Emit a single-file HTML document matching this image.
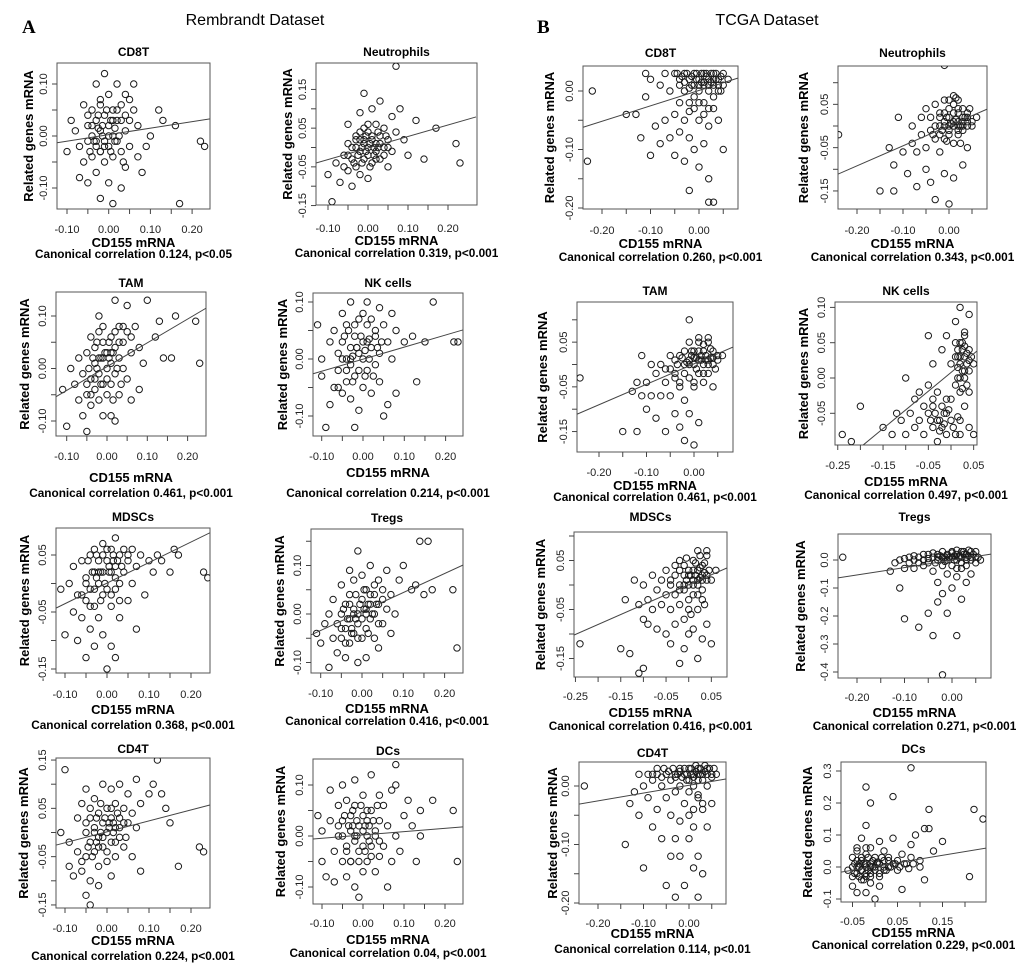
<!DOCTYPE html>
<html><head><meta charset="utf-8"><style>
html,body{margin:0;padding:0;background:#fff;}
svg{display:block;font-family:"Liberation Sans",sans-serif;}
</style></head><body>
<svg id="fig" width="1020" height="969" viewBox="0 0 1020 969" xmlns="http://www.w3.org/2000/svg">
<text x="22" y="33" font-family="Liberation Serif,serif" font-weight="bold" font-size="19">A</text>
<text x="255" y="25" text-anchor="middle" font-size="16">Rembrandt Dataset</text>
<text x="537" y="33" font-family="Liberation Serif,serif" font-weight="bold" font-size="19">B</text>
<text x="767" y="25" text-anchor="middle" font-size="16">TCGA Dataset</text>
</svg>
<script>
// ---- data (data units) ----
const ptsA1=[[-0.1,-0.03],[-0.09,0.03],[-0.08,0.01],[-0.07,-0.02],[-0.07,-0.08],[-0.06,0.06],[-0.06,-0.05],[-0.05,0.02],[-0.05,-0.01],[-0.05,-0.09],[-0.04,0.05],[-0.04,0.0],[-0.04,-0.04],[-0.03,0.1],[-0.03,0.03],[-0.03,-0.02],[-0.03,-0.07],[-0.02,0.07],[-0.02,0.01],[-0.02,-0.03],[-0.02,-0.12],[-0.01,0.12],[-0.01,0.04],[-0.01,-0.01],[-0.01,-0.05],[0,0.02],[0,-0.02],[0,0.08],[0,-0.09],[0.01,0.0],[0.01,0.05],[0.01,-0.04],[0.01,-0.13],[0.02,0.03],[0.02,-0.01],[0.02,0.1],[0.03,0.06],[0.03,-0.03],[0.03,-0.1],[0.04,0.01],[0.04,0.08],[0.04,-0.06],[0.05,0.03],[0.05,-0.02],[0.06,0.1],[0.06,0.05],[0.07,-0.04],[0.07,0.02],[0.08,-0.07],[0.09,-0.02],[0.1,0.0],[0.12,0.05],[0.13,0.03],[0.16,0.02],[0.17,-0.13],[0.22,-0.01],[0.23,-0.02],[-0.015,0.0],[-0.025,0.015],[0.005,0.03],[0.015,0.015],[-0.035,-0.01]];
const coreA1=[[-0.04,0.02],[-0.03,-0.01],[-0.025,0.04],[-0.02,-0.03],[-0.015,0.02],[-0.01,-0.02],[-0.005,0.05],[0,0.0],[0.005,-0.03],[0.01,0.03],[0.015,-0.01],[0.02,0.05],[0.025,0.0],[0.03,0.03],[0.035,-0.05],[-0.045,-0.03],[-0.02,0.06],[0.04,0.04],[-0.05,0.04],[0.05,0.07]];
const ptsA2=[[-0.1,-0.07],[-0.09,-0.14],[-0.08,-0.04],[-0.07,-0.09],[-0.06,-0.02],[-0.05,-0.06],[-0.05,0.06],[-0.05,0.01],[-0.04,-0.03],[-0.04,-0.1],[-0.03,0.0],[-0.03,0.03],[-0.03,-0.05],[-0.02,0.09],[-0.02,-0.01],[-0.02,0.02],[-0.02,-0.07],[-0.01,0.14],[-0.01,0.01],[-0.01,-0.03],[-0.01,0.05],[0,0.0],[0,-0.02],[0,0.04],[0,-0.08],[0.01,0.02],[0.01,-0.04],[0.01,0.1],[0.02,0.01],[0.02,-0.01],[0.02,0.06],[0.03,0.03],[0.03,-0.03],[0.03,0.12],[0.04,0.0],[0.04,0.05],[0.05,-0.05],[0.05,0.02],[0.06,0.08],[0.06,-0.01],[0.07,0.04],[0.07,0.21],[0.08,0.1],[0.09,0.02],[0.1,-0.02],[0.12,0.07],[0.14,-0.03],[0.17,0.05],[0.22,0.01],[0.23,-0.04],[-0.015,0.0],[0.005,0.01],[0.015,-0.02],[-0.005,0.03],[0.025,0.0]];
const coreA2=[[-0.05,-0.02],[-0.04,0.0],[-0.035,-0.04],[-0.03,0.02],[-0.025,-0.02],[-0.02,0.04],[-0.015,-0.04],[-0.01,0.02],[-0.005,-0.01],[0,0.06],[0.005,-0.05],[0.01,0.03],[0.015,0.0],[0.02,-0.03],[0.025,0.04],[0.03,0.01],[0.04,-0.02],[0.045,0.03],[-0.06,-0.05],[0.05,0.0]];
const ptsB1=[[-0.23,-0.12],[-0.22,0.0],[-0.15,-0.04],[-0.13,-0.04],[-0.12,-0.08],[-0.11,0.03],[-0.11,-0.01],[-0.1,-0.11],[-0.1,0.02],[-0.09,-0.06],[-0.08,0.01],[-0.08,-0.09],[-0.07,0.03],[-0.07,-0.05],[-0.06,0.0],[-0.06,-0.08],[-0.05,0.03],[-0.05,-0.04],[-0.05,-0.11],[-0.04,0.02],[-0.04,-0.02],[-0.04,-0.07],[-0.03,0.03],[-0.03,0.0],[-0.03,-0.05],[-0.03,-0.12],[-0.02,0.02],[-0.02,-0.02],[-0.02,-0.08],[-0.02,-0.17],[-0.01,0.03],[-0.01,0.01],[-0.01,-0.03],[-0.01,-0.1],[0,0.02],[0,0.0],[0,-0.05],[0,-0.13],[0.01,0.03],[0.01,0.01],[0.01,-0.02],[0.01,-0.09],[0.02,0.02],[0.02,0.0],[0.02,-0.06],[0.02,-0.15],[0.02,-0.19],[0.03,0.03],[0.03,0.01],[0.03,-0.03],[0.03,-0.19],[0.04,0.02],[0.04,0.0],[0.04,-0.05],[0.05,0.03],[0.05,0.01],[0.05,-0.1],[0.06,0.02],[0.005,0.015],[0.015,0.025],[-0.005,0.02],[0.025,0.015],[0.035,0.02],[-0.015,0.01]];
const coreB1=[[-0.045,0.03],[-0.035,0.025],[-0.025,0.03],[-0.015,0.025],[-0.005,0.03],[0.005,0.03],[0.015,0.03],[0.025,0.03],[0.035,0.03],[0.045,0.025],[-0.04,0.01],[-0.03,0.015],[-0.02,0.005],[0.0,0.01],[0.01,0.015],[0.02,0.01],[0.03,0.02],[0.04,0.01],[-0.01,-0.01],[0.0,-0.02],[0.02,-0.03],[0.03,-0.01],[0.045,0.0],[-0.02,-0.035],[0.01,-0.04]];
const ptsB2=[[-0.24,-0.02],[-0.15,-0.15],[-0.13,-0.05],[-0.12,-0.09],[-0.12,-0.15],[-0.11,0.02],[-0.1,-0.06],[-0.09,-0.11],[-0.08,0.0],[-0.08,-0.04],[-0.07,-0.14],[-0.07,-0.06],[-0.06,0.02],[-0.06,-0.02],[-0.05,-0.1],[-0.05,0.04],[-0.05,-0.05],[-0.04,-0.01],[-0.04,-0.13],[-0.04,0.02],[-0.03,-0.03],[-0.03,0.05],[-0.03,-0.17],[-0.02,0.0],[-0.02,-0.06],[-0.02,0.03],[-0.01,0.01],[-0.01,-0.03],[-0.01,0.06],[-0.01,-0.11],[-0.01,0.14],[0,0.0],[0,-0.02],[0,0.04],[0,-0.18],[0.01,0.01],[0.01,-0.04],[0.01,0.07],[0.01,-0.12],[0.02,0.0],[0.02,0.03],[0.02,-0.02],[0.02,0.06],[0.03,0.01],[0.03,-0.01],[0.03,0.04],[0.03,-0.09],[0.04,0.0],[0.04,0.02],[0.04,-0.05],[0.05,0.01],[0.06,0.02],[0.005,0.005],[0.015,0.015],[0.025,0.0],[-0.005,0.02],[0.035,0.02],[-0.015,-0.01]];
const coreB2=[[-0.03,0.0],[-0.02,0.02],[-0.02,-0.02],[-0.01,0.0],[-0.01,0.03],[0,0.02],[0,-0.01],[0.01,0.03],[0.01,0.0],[0.01,0.05],[0.02,0.01],[0.02,-0.01],[0.02,0.04],[0.03,0.02],[0.03,0.0],[0.04,0.03],[0.04,0.01],[0.05,0.0],[0.0,0.06],[0.015,0.065],[-0.005,-0.035],[0.025,-0.04],[-0.035,-0.02],[0.045,0.04]];
const ptsA3=[[-0.11,-0.04],[-0.1,-0.11],[-0.09,0.0],[-0.08,-0.03],[-0.07,-0.06],[-0.07,0.02],[-0.06,-0.09],[-0.06,-0.01],[-0.05,0.03],[-0.05,-0.05],[-0.05,-0.12],[-0.04,-0.02],[-0.04,0.06],[-0.04,-0.07],[-0.03,0.01],[-0.03,-0.04],[-0.03,0.04],[-0.02,-0.01],[-0.02,0.1],[-0.02,-0.06],[-0.02,0.07],[-0.01,0.02],[-0.01,-0.03],[-0.01,0.05],[-0.01,-0.09],[0,0.0],[0,0.03],[0,-0.05],[0.01,0.06],[0.01,0.01],[0.01,-0.03],[0.01,-0.09],[0.02,0.13],[0.02,0.04],[0.02,-0.01],[0.02,-0.1],[0.03,0.08],[0.03,0.02],[0.03,-0.05],[0.04,0.05],[0.04,0.0],[0.05,0.12],[0.05,0.07],[0.05,-0.02],[0.06,0.03],[0.06,-0.06],[0.07,0.08],[0.08,0.04],[0.08,-0.04],[0.09,0.01],[0.1,0.13],[0.12,0.06],[0.13,0.09],[0.14,0.02],[0.16,0.02],[0.17,0.1],[0.22,0.09],[0.23,0.01],[-0.015,0.02],[0.005,0.02],[-0.025,0.0],[0.015,0.03]];
const coreA3=[[-0.05,-0.03],[-0.045,0.0],[-0.04,-0.05],[-0.035,0.02],[-0.03,-0.02],[-0.025,0.05],[-0.02,0.02],[-0.015,-0.03],[-0.01,0.08],[-0.005,0.03],[0,-0.02],[0.005,0.05],[0.01,0.03],[0.015,-0.06],[0.02,0.07],[0.025,0.0],[0.03,0.05],[0.035,-0.03],[0.04,0.08],[0.06,0.06]];
const ptsA4=[[-0.11,0.06],[-0.1,-0.03],[-0.1,0.0],[-0.09,-0.12],[-0.08,0.03],[-0.08,-0.08],[-0.07,-0.05],[-0.07,0.05],[-0.06,0.01],[-0.06,-0.02],[-0.05,0.08],[-0.05,-0.06],[-0.05,0.03],[-0.04,0.0],[-0.04,-0.04],[-0.04,0.06],[-0.03,0.1],[-0.03,-0.01],[-0.03,0.02],[-0.03,-0.07],[-0.02,0.04],[-0.02,-0.03],[-0.02,-0.12],[-0.01,0.01],[-0.01,0.07],[-0.01,-0.09],[0,0.0],[0,0.03],[0,-0.05],[0.01,0.06],[0.01,-0.02],[0.01,0.1],[0.02,0.02],[0.02,-0.06],[0.03,0.04],[0.03,-0.01],[0.04,0.09],[0.04,0.01],[0.04,-0.04],[0.05,0.06],[0.05,-0.1],[0.06,0.03],[0.06,-0.08],[0.07,0.08],[0.07,0.0],[0.08,-0.06],[0.08,0.05],[0.1,0.03],[0.12,0.04],[0.13,-0.04],[0.15,0.03],[0.17,0.1],[0.22,0.03],[0.23,0.03],[-0.015,0.02],[0.005,0.015],[-0.025,0.005],[0.015,0.035]];
const coreA4=[[-0.05,0.0],[-0.045,0.04],[-0.04,-0.02],[-0.035,0.05],[-0.03,0.0],[-0.025,-0.04],[-0.02,0.06],[-0.015,0.02],[-0.01,-0.02],[-0.005,0.04],[0,0.08],[0.005,-0.03],[0.01,0.03],[0.015,0.0],[0.02,0.07],[0.025,-0.03],[0.03,0.05],[0.035,0.02],[-0.06,-0.05],[0.045,0.03]];
const ptsB3=[[-0.24,-0.03],[-0.15,-0.15],[-0.13,-0.06],[-0.12,-0.04],[-0.12,-0.15],[-0.11,-0.07],[-0.11,0.02],[-0.1,-0.04],[-0.1,-0.1],[-0.09,0.0],[-0.09,-0.07],[-0.08,-0.12],[-0.08,-0.02],[-0.07,-0.07],[-0.07,0.0],[-0.06,-0.04],[-0.06,-0.15],[-0.05,-0.01],[-0.05,-0.07],[-0.04,0.01],[-0.04,-0.03],[-0.04,-0.11],[-0.03,0.02],[-0.03,-0.05],[-0.03,-0.14],[-0.02,0.0],[-0.02,0.03],[-0.02,-0.08],[-0.02,-0.17],[-0.01,0.01],[-0.01,-0.03],[-0.01,0.05],[-0.01,0.1],[-0.01,-0.11],[0,0.0],[0,0.03],[0,-0.05],[0,-0.18],[0.01,0.01],[0.01,-0.02],[0.01,0.05],[0.01,-0.13],[0.02,0.0],[0.02,0.03],[0.02,-0.04],[0.03,0.01],[0.03,0.05],[0.03,-0.02],[0.04,0.0],[0.04,0.03],[0.04,-0.05],[0.05,0.01],[0.06,0.02],[0.005,0.015],[0.015,0.02],[0.025,0.01],[-0.005,0.02],[0.035,0.015],[-0.015,0.005]];
const coreB3=[[-0.06,-0.01],[-0.05,0.02],[-0.04,-0.02],[-0.035,0.0],[-0.025,0.015],[-0.02,-0.02],[-0.01,0.0],[-0.005,0.03],[0,0.015],[0.005,-0.01],[0.01,0.03],[0.015,0.01],[0.02,0.045],[0.02,-0.02],[0.025,0.02],[0.03,0.0],[0.035,0.035],[0.04,0.015],[0.045,-0.01],[0.05,0.02],[0.01,0.06],[0.03,0.06],[-0.03,-0.04],[0.0,-0.04]];
const ptsB4=[[-0.24,-0.08],[-0.22,-0.09],[-0.2,-0.04],[-0.15,-0.07],[-0.13,-0.08],[-0.12,-0.05],[-0.11,-0.06],[-0.1,0.0],[-0.1,-0.08],[-0.09,-0.05],[-0.08,-0.03],[-0.08,-0.07],[-0.07,-0.02],[-0.07,-0.06],[-0.06,-0.04],[-0.06,-0.08],[-0.05,0.06],[-0.05,-0.01],[-0.05,-0.05],[-0.04,0.02],[-0.04,-0.03],[-0.04,-0.07],[-0.03,-0.02],[-0.03,-0.06],[-0.03,-0.09],[-0.02,0.04],[-0.02,-0.04],[-0.02,-0.07],[-0.01,0.06],[-0.01,-0.05],[-0.01,-0.08],[0,0.02],[0,-0.03],[0,-0.06],[0.01,0.08],[0.01,0.03],[0.01,-0.01],[0.01,-0.08],[0.02,0.1],[0.02,0.05],[0.02,0.02],[0.02,-0.02],[0.02,-0.06],[0.03,0.06],[0.03,0.03],[0.03,0.0],[0.03,-0.04],[0.04,0.09],[0.04,0.04],[0.04,0.01],[0.04,-0.07],[0.05,0.02],[0.05,-0.08],[0.015,0.03],[0.025,0.04],[0.025,0.01],[0.035,0.02],[0.015,0.0],[-0.015,-0.05],[-0.025,-0.06]];
const coreB4=[[0.01,0.05],[0.015,0.04],[0.02,0.03],[0.025,0.05],[0.03,0.045],[0.035,0.035],[0.04,0.025],[0.045,0.03],[0.02,0.0],[0.03,0.01],[0.035,-0.01],[0.04,-0.02],[0.025,-0.015],[0.015,0.015],[0.03,0.065],[-0.045,-0.06],[-0.035,-0.05],[-0.025,-0.075],[-0.015,-0.065],[-0.005,-0.045],[0.005,-0.07],[0.015,-0.055],[-0.04,-0.04],[0.02,-0.08],[-0.01,-0.03]];
const ptsA5=[[-0.11,-0.01],[-0.1,-0.09],[-0.09,0.0],[-0.08,-0.05],[-0.08,0.03],[-0.07,-0.02],[-0.07,-0.1],[-0.06,0.04],[-0.06,-0.06],[-0.05,0.01],[-0.05,-0.03],[-0.05,-0.13],[-0.04,0.05],[-0.04,-0.01],[-0.04,-0.08],[-0.03,0.02],[-0.03,0.06],[-0.03,-0.04],[-0.03,-0.11],[-0.02,0.0],[-0.02,0.04],[-0.02,-0.06],[-0.01,0.07],[-0.01,0.02],[-0.01,-0.02],[-0.01,-0.09],[0,0.04],[0,-0.01],[0,-0.15],[0.01,0.06],[0.01,0.02],[0.01,-0.04],[0.01,-0.11],[0.02,0.03],[0.02,-0.01],[0.02,0.08],[0.02,-0.13],[0.03,0.05],[0.03,0.0],[0.03,-0.06],[0.04,0.02],[0.04,0.06],[0.05,-0.03],[0.05,0.04],[0.06,0.0],[0.06,0.06],[0.07,-0.08],[0.07,0.03],[0.08,0.05],[0.09,-0.02],[0.1,0.04],[0.11,0.02],[0.12,0.05],[0.13,0.04],[0.15,0.02],[0.16,0.06],[0.17,0.05],[0.23,0.02],[0.24,0.01],[-0.015,0.02],[0.005,0.03],[-0.025,0.01],[0.015,0.04]];
const coreA5=[[-0.05,0.0],[-0.045,0.04],[-0.04,-0.04],[-0.035,0.02],[-0.03,-0.01],[-0.025,0.05],[-0.02,0.02],[-0.015,-0.03],[-0.01,0.05],[-0.005,0.0],[0,0.06],[0.005,0.02],[0.01,-0.02],[0.015,0.05],[0.02,0.01],[0.025,0.04],[0.03,-0.03],[0.035,0.03],[0.05,0.05],[-0.06,-0.02]];
const ptsA6=[[-0.11,-0.04],[-0.1,-0.06],[-0.09,-0.02],[-0.08,-0.11],[-0.08,0.0],[-0.07,-0.05],[-0.07,0.03],[-0.06,-0.02],[-0.06,-0.08],[-0.05,0.06],[-0.05,0.0],[-0.05,-0.05],[-0.04,0.02],[-0.04,-0.03],[-0.04,-0.09],[-0.03,0.09],[-0.03,-0.01],[-0.03,0.04],[-0.03,-0.06],[-0.02,0.01],[-0.02,-0.04],[-0.02,0.07],[-0.01,0.0],[-0.01,-0.02],[-0.01,-0.1],[-0.01,0.13],[0,0.03],[0,-0.05],[0,0.08],[0.01,0.0],[0.01,-0.03],[0.01,0.05],[0.01,-0.09],[0.02,0.02],[0.02,-0.01],[0.02,0.1],[0.03,0.04],[0.03,-0.05],[0.03,0.0],[0.04,0.07],[0.04,0.02],[0.04,-0.07],[0.05,0.05],[0.05,-0.02],[0.06,0.09],[0.06,0.01],[0.07,0.04],[0.07,-0.04],[0.08,0.0],[0.09,0.07],[0.1,0.1],[0.12,0.05],[0.13,0.06],[0.14,0.15],[0.15,0.04],[0.16,0.15],[0.17,0.05],[0.22,0.05],[0.23,-0.07],[-0.015,-0.01],[0.005,0.01],[-0.025,-0.03],[0.015,0.02]];
const coreA6=[[-0.05,-0.03],[-0.045,0.01],[-0.04,-0.06],[-0.035,-0.01],[-0.03,0.02],[-0.025,-0.04],[-0.02,0.0],[-0.015,0.04],[-0.01,-0.05],[-0.005,0.02],[0,-0.01],[0.005,0.05],[0.01,0.01],[0.015,-0.04],[0.02,0.04],[0.025,0.0],[0.03,0.06],[0.035,0.02],[0.04,-0.02],[0.05,0.03]];
const ptsB5=[[-0.24,-0.12],[-0.15,-0.13],[-0.14,-0.03],[-0.13,-0.14],[-0.12,0.01],[-0.11,-0.04],[-0.11,-0.18],[-0.1,0.0],[-0.1,-0.07],[-0.1,-0.17],[-0.09,-0.03],[-0.09,-0.08],[-0.08,0.02],[-0.08,-0.05],[-0.07,-0.01],[-0.07,-0.09],[-0.06,0.01],[-0.06,-0.04],[-0.05,0.03],[-0.05,-0.02],[-0.05,-0.1],[-0.04,0.01],[-0.04,-0.05],[-0.04,-0.12],[-0.03,0.04],[-0.03,-0.02],[-0.03,-0.08],[-0.02,0.0],[-0.02,0.05],[-0.02,-0.04],[-0.02,-0.16],[-0.01,0.02],[-0.01,-0.01],[-0.01,-0.07],[-0.01,-0.13],[0,0.03],[0,0.0],[0,-0.05],[0,-0.1],[0.01,0.05],[0.01,0.01],[0.01,-0.02],[0.01,-0.09],[0.02,0.03],[0.02,0.0],[0.02,0.07],[0.02,-0.05],[0.02,-0.15],[0.03,0.04],[0.03,0.01],[0.03,-0.03],[0.03,-0.11],[0.04,0.02],[0.04,0.06],[0.04,-0.08],[0.05,0.01],[0.05,-0.12],[0.06,0.03],[0.005,0.02],[0.015,0.02],[0.025,0.015],[-0.005,0.01],[0.035,0.025]];
const coreB5=[[-0.04,0.0],[-0.03,0.02],[-0.02,-0.01],[-0.02,0.03],[-0.01,0.04],[-0.01,0.0],[0,0.02],[0,-0.03],[0.01,0.03],[0.01,0.0],[0.015,0.045],[0.02,0.01],[0.02,-0.02],[0.025,0.035],[0.03,0.02],[0.03,-0.01],[0.035,0.045],[0.04,0.01],[0.045,0.03],[0.035,-0.04],[0.005,-0.06],[0.025,0.06],[0.04,0.07],[-0.005,0.055]];
const ptsB6=[[-0.23,0.01],[-0.13,-0.04],[-0.12,-0.01],[-0.11,-0.1],[-0.11,0.0],[-0.1,-0.03],[-0.1,-0.21],[-0.09,0.01],[-0.09,-0.01],[-0.08,0.0],[-0.08,-0.03],[-0.07,0.01],[-0.07,-0.24],[-0.06,0.0],[-0.06,-0.02],[-0.05,0.02],[-0.05,-0.01],[-0.05,-0.19],[-0.04,0.01],[-0.04,-0.04],[-0.04,-0.27],[-0.03,0.02],[-0.03,0.0],[-0.03,-0.08],[-0.03,-0.15],[-0.02,0.01],[-0.02,-0.02],[-0.02,-0.12],[-0.02,-0.41],[-0.01,0.02],[-0.01,0.0],[-0.01,-0.05],[-0.01,-0.19],[0,0.01],[0,0.03],[0,-0.02],[0,-0.1],[0.01,0.02],[0.01,0.0],[0.01,-0.06],[0.01,-0.27],[0.02,0.01],[0.02,0.03],[0.02,-0.03],[0.02,-0.14],[0.03,0.0],[0.03,0.02],[0.03,-0.08],[0.04,0.01],[0.04,0.03],[0.04,-0.05],[0.05,0.01],[0.05,-0.01],[0.06,0.0],[0.005,0.015],[0.015,0.01],[0.025,0.02],[-0.005,0.01],[0.035,0.015],[-0.015,0.01],[-0.025,0.015]];
const coreB6=[[-0.1,0.005],[-0.08,0.015],[-0.07,-0.01],[-0.06,0.02],[-0.05,0.005],[-0.04,0.025],[-0.035,-0.01],[-0.03,0.01],[-0.02,0.03],[-0.015,-0.005],[-0.01,0.015],[0,0.025],[0.005,0.0],[0.01,0.035],[0.015,0.015],[0.02,-0.01],[0.025,0.03],[0.03,0.01],[0.035,0.035],[0.04,0.0],[0.045,0.02],[0.05,0.03],[0.055,0.01],[0.01,-0.03],[0.03,-0.02]];
const ptsA7=[[-0.11,0.0],[-0.1,0.13],[-0.09,-0.02],[-0.09,-0.07],[-0.08,-0.09],[-0.07,0.03],[-0.07,-0.04],[-0.06,0.06],[-0.06,-0.08],[-0.05,0.09],[-0.05,0.0],[-0.05,-0.05],[-0.05,-0.13],[-0.04,0.03],[-0.04,-0.02],[-0.04,-0.1],[-0.04,-0.15],[-0.03,0.07],[-0.03,0.01],[-0.03,-0.04],[-0.02,0.04],[-0.02,-0.01],[-0.02,-0.07],[-0.02,-0.11],[-0.01,0.1],[-0.01,0.02],[-0.01,-0.03],[0,0.05],[0,0.0],[0,-0.06],[0.01,0.03],[0.01,-0.02],[0.01,0.09],[0.01,-0.09],[0.02,0.01],[0.02,-0.05],[0.02,0.06],[0.03,0.03],[0.03,-0.01],[0.03,0.1],[0.04,0.05],[0.04,-0.03],[0.05,0.02],[0.05,0.08],[0.06,-0.05],[0.06,0.04],[0.07,0.11],[0.07,0.01],[0.08,-0.08],[0.08,0.06],[0.1,0.08],[0.11,0.1],[0.12,0.15],[0.13,0.08],[0.14,0.05],[0.15,0.02],[0.17,-0.07],[0.22,-0.03],[0.23,-0.04],[-0.015,0.0],[0.005,0.01],[-0.025,-0.02],[0.015,0.02]];
const coreA7=[[-0.05,0.02],[-0.045,-0.03],[-0.04,0.05],[-0.035,-0.05],[-0.03,0.0],[-0.025,0.03],[-0.02,-0.03],[-0.015,0.06],[-0.01,-0.01],[-0.005,0.03],[0,-0.04],[0.005,0.02],[0.01,0.05],[0.015,0.0],[0.02,-0.02],[0.025,0.04],[0.03,0.01],[0.04,0.02],[-0.06,-0.06],[0.045,-0.01]];
const ptsA8=[[-0.11,0.04],[-0.1,-0.05],[-0.1,0.01],[-0.09,-0.08],[-0.08,0.09],[-0.08,0.03],[-0.07,-0.03],[-0.07,-0.09],[-0.06,0.06],[-0.06,0.0],[-0.05,0.1],[-0.05,-0.05],[-0.05,0.03],[-0.04,-0.02],[-0.04,0.07],[-0.04,-0.08],[-0.03,0.01],[-0.03,0.04],[-0.03,-0.05],[-0.02,0.11],[-0.02,-0.01],[-0.02,-0.1],[-0.02,0.06],[-0.01,0.02],[-0.01,-0.03],[-0.01,-0.12],[0,0.04],[0,-0.02],[0,0.08],[0,-0.07],[0.01,0.0],[0.01,0.03],[0.01,-0.05],[0.02,0.12],[0.02,0.05],[0.02,-0.02],[0.03,0.01],[0.03,-0.07],[0.04,0.08],[0.04,0.03],[0.04,-0.04],[0.05,0.06],[0.05,-0.02],[0.06,0.02],[0.06,-0.1],[0.07,0.09],[0.07,-0.05],[0.08,0.1],[0.08,0.0],[0.09,-0.03],[0.1,0.04],[0.11,0.07],[0.12,0.02],[0.13,-0.05],[0.14,0.0],[0.14,0.05],[0.17,0.07],[0.22,0.05],[0.23,-0.05],[0.08,0.14],[-0.015,0.0],[0.005,0.02],[-0.025,0.02],[0.015,-0.01]];
const coreA8=[[-0.05,0.0],[-0.045,0.04],[-0.04,-0.03],[-0.035,0.02],[-0.03,-0.05],[-0.025,0.05],[-0.02,0.0],[-0.015,0.03],[-0.01,-0.05],[-0.005,0.06],[0,0.01],[0.005,-0.03],[0.01,0.05],[0.015,0.02],[0.02,-0.04],[0.025,0.03],[0.03,0.0],[0.035,0.06],[0.04,-0.01],[-0.06,0.02]];
const ptsB7=[[-0.23,0.0],[-0.14,-0.1],[-0.13,-0.03],[-0.12,-0.01],[-0.11,0.02],[-0.11,-0.05],[-0.1,-0.14],[-0.1,0.0],[-0.09,0.02],[-0.09,-0.02],[-0.08,-0.07],[-0.08,0.01],[-0.07,0.02],[-0.07,-0.04],[-0.06,0.0],[-0.06,-0.09],[-0.05,0.02],[-0.05,-0.02],[-0.05,-0.17],[-0.04,0.01],[-0.04,-0.05],[-0.04,-0.12],[-0.03,0.02],[-0.03,-0.01],[-0.03,-0.09],[-0.03,-0.19],[-0.02,0.03],[-0.02,0.0],[-0.02,-0.06],[-0.02,-0.12],[-0.01,0.02],[-0.01,-0.03],[-0.01,-0.17],[0,0.03],[0,0.01],[0,-0.05],[0,-0.09],[0.01,0.02],[0.01,0.0],[0.01,-0.07],[0.01,-0.14],[0.02,0.03],[0.02,0.01],[0.02,-0.02],[0.02,-0.12],[0.02,-0.19],[0.03,0.02],[0.03,-0.04],[0.03,-0.15],[0.04,0.03],[0.04,0.0],[0.04,-0.07],[0.05,0.02],[0.05,-0.03],[0.06,0.02],[0.005,0.02],[0.015,0.025],[0.025,0.02],[-0.005,0.02],[0.035,0.025],[-0.015,0.015],[-0.025,0.02]];
const coreB7=[[-0.08,0.02],[-0.07,0.03],[-0.06,0.015],[-0.055,0.03],[-0.045,0.025],[-0.035,0.03],[-0.03,0.015],[-0.02,0.025],[-0.01,0.03],[-0.005,0.01],[0.005,0.03],[0.01,0.015],[0.015,0.035],[0.02,0.02],[0.025,0.03],[0.03,0.01],[0.035,0.035],[0.04,0.02],[0.045,0.03],[0.05,0.015],[0.055,0.03],[0.0,-0.01],[0.02,-0.015],[0.03,-0.03],[0.01,-0.04]];
const ptsB8=[[-0.06,-0.01],[-0.05,0.03],[-0.05,-0.03],[-0.05,-0.06],[-0.04,0.0],[-0.04,0.06],[-0.04,-0.08],[-0.04,-0.02],[-0.03,0.02],[-0.03,-0.04],[-0.03,0.09],[-0.03,-0.01],[-0.02,0.0],[-0.02,0.04],[-0.02,-0.03],[-0.02,-0.08],[-0.02,0.13],[-0.02,0.25],[-0.01,0.01],[-0.01,-0.02],[-0.01,0.06],[-0.01,0.2],[-0.01,-0.05],[0,0.0],[0,0.03],[0,-0.1],[0.01,0.01],[0.01,-0.02],[0.01,0.08],[0.01,-0.06],[0.02,0.02],[0.02,-0.01],[0.02,0.05],[0.03,0.0],[0.03,0.03],[0.04,0.01],[0.04,0.22],[0.04,0.09],[0.05,0.02],[0.05,-0.01],[0.06,0.04],[0.06,-0.07],[0.07,0.01],[0.08,0.03],[0.08,0.07],[0.08,0.31],[0.09,0.1],[0.1,0.02],[0.11,0.12],[0.11,-0.04],[0.12,0.18],[0.12,0.12],[0.13,0.05],[0.15,0.08],[0.21,-0.03],[0.22,0.18],[0.24,0.15],[-0.035,0.0],[-0.025,0.01],[-0.015,-0.01],[-0.045,0.01],[-0.005,0.0],[0.005,0.015]];
const coreB8=[[-0.05,0.0],[-0.045,-0.02],[-0.04,0.02],[-0.035,-0.03],[-0.035,0.01],[-0.03,0.03],[-0.03,-0.01],[-0.025,-0.04],[-0.02,0.01],[-0.02,-0.02],[-0.015,0.03],[-0.01,0.0],[-0.01,-0.03],[-0.005,0.02],[0,-0.01],[0.005,0.01],[0.01,-0.03],[0.015,0.03],[0.02,0.0],[0.025,-0.01],[0.03,0.02],[0.035,0.0],[0.045,0.01],[0.055,0.0],[0.065,0.01],[0.075,-0.005],[0.085,0.01],[0.1,0.0],[-0.04,0.05],[-0.02,0.06]];
// regression lines: [x1,y1,x2,y2] in data units
const lineA1=[-0.124,-0.013,0.243,0.033], lineA2=[-0.13,-0.04,0.27,0.079];
const lineB1=[-0.239,-0.062,0.08,0.022], lineB2=[-0.241,-0.111,0.083,0.039];
const lineA3=[-0.127,-0.054,0.246,0.115], lineA4=[-0.121,-0.026,0.242,0.051];
const lineB3=[-0.246,-0.111,0.082,0.039], lineB4=[-0.194,-0.095,0.057,0.038];
const lineA5=[-0.121,-0.043,0.245,0.089], lineA6=[-0.123,-0.043,0.245,0.101];
const lineB5=[-0.253,-0.102,0.085,0.035], lineB6=[-0.24,-0.064,0.082,0.021];
const lineA7=[-0.121,-0.026,0.245,0.057], lineA8=[-0.122,-0.006,0.244,0.018];
const lineB7=[-0.242,-0.031,0.081,0.012], lineB8=[-0.076,-0.016,0.247,0.059];
// tick values
const xTicksR=[-0.10,-0.05,0,0.05,0.10,0.15,0.20], xLabelsR=["-0.10","0.00","0.10","0.20"], xLabelValsR=[-0.10,0,0.10,0.20];
const xTicksT=[-0.20,-0.15,-0.10,-0.05,0,0.05], xLabelsT=["-0.20","-0.10","0.00"], xLabelValsT=[-0.20,-0.10,0];
const xTicksT25=[-0.25,-0.20,-0.15,-0.10,-0.05,0,0.05], xLabelsT25=["-0.25","-0.15","-0.05","0.05"], xLabelValsT25=[-0.25,-0.15,-0.05,0.05];
const xTicksB8=[-0.05,0,0.05,0.10,0.15,0.20], xLabelsB8=["-0.05","0.05","0.15"], xLabelValsB8=[-0.05,0.05,0.15];
const yTicksA1=[-0.10,-0.05,0,0.05,0.10], yLabelsA1=["-0.10","0.00","0.10"], yLabelValsA1=[-0.10,0,0.10];
const yTicksA2=[-0.15,-0.10,-0.05,0,0.05,0.10,0.15], yLabelsA2=["-0.15","-0.05","0.05","0.15"], yLabelValsA2=[-0.15,-0.05,0.05,0.15];
const yTicksB1=[-0.20,-0.15,-0.10,-0.05,0], yLabelsB1=["-0.20","-0.10","0.00"], yLabelValsB1=[-0.20,-0.10,0];
const yTicksB2=[-0.15,-0.10,-0.05,0,0.05,0.10], yLabelsB2=["-0.15","-0.05","0.05"], yLabelValsB2=[-0.15,-0.05,0.05];
const yTicksB4=[-0.05,0,0.05,0.10], yLabelsB4=["-0.05","0.00","0.05","0.10"], yLabelValsB4=[-0.05,0,0.05,0.10];
const yTicksA5=[-0.15,-0.10,-0.05,0,0.05], yLabelsA5=["-0.15","-0.05","0.05"], yLabelValsA5=[-0.15,-0.05,0.05];
const yTicksA6=[-0.10,-0.05,0,0.05,0.10,0.15], yLabelsA6=["-0.10","0.00","0.10"], yLabelValsA6=[-0.10,0,0.10];
const yTicksB6=[-0.4,-0.3,-0.2,-0.1,0], yLabelsB6=["-0.4","-0.3","-0.2","-0.1","0.0"], yLabelValsB6=[-0.4,-0.3,-0.2,-0.1,0];
const yTicksA7=[-0.15,-0.10,-0.05,0,0.05,0.10,0.15], yLabelsA7=["-0.15","-0.05","0.05","0.15"], yLabelValsA7=[-0.15,-0.05,0.05,0.15];
const yTicksB8=[-0.1,0,0.1,0.2,0.3], yLabelsB8=["-0.1","0.0","0.1","0.2","0.3"], yLabelValsB8=[-0.1,0,0.1,0.2,0.3];
const titles=["CD8T","Neutrophils","CD8T","Neutrophils","TAM","NK cells","TAM","NK cells","MDSCs","Tregs","MDSCs","Tregs","CD4T","DCs","CD4T","DCs"];
const correlations=["0.124","0.319","0.260","0.343","0.461","0.214","0.461","0.497","0.368","0.416","0.416","0.271","0.224","0.04","0.114","0.229"];
const pvalues=["p<0.05","p<0.001","p<0.001","p<0.001","p<0.001","p<0.001","p<0.001","p<0.001","p<0.001","p<0.001","p<0.001","p<0.001","p<0.001","p<0.001","p<0.01","p<0.001"];

// layout (pixels) per panel
const panels=[
 {id:"a-cd8t",pts:ptsA1.concat(coreA1),line:lineA1,box:[57,63,210,209],x0:108.7,kx:417,y0:136,ky:520,xt:[xTicksR,xLabelValsR,xLabelsR],yt:[yTicksA1,yLabelValsA1,yLabelsA1],tY:52,ylX:28,tkY:233,xlY:247,cY:258},
 {id:"a-neutrophils",pts:ptsA2.concat(coreA2),line:lineA2,box:[316,63,477,205],x0:368,kx:400,y0:147.5,ky:387,xt:[xTicksR,xLabelValsR,xLabelsR],yt:[yTicksA2,yLabelValsA2,yLabelsA2],tY:52,ylX:287,tkY:232,xlY:245,cY:257},
 {id:"b-cd8t",pts:ptsB1.concat(coreB1),line:lineB1,box:[583,66,738,209],x0:699,kx:485,y0:91,ky:585,xt:[xTicksT,xLabelValsT,xLabelsT],yt:[yTicksB1,yLabelValsB1,yLabelsB1],tY:53,ylX:549,tkY:234,xlY:248,cY:261},
 {id:"b-neutrophils",pts:ptsB2.concat(coreB2),line:lineB2,box:[838,66,987,209],x0:949,kx:460,y0:126,ky:433,xt:[xTicksT,xLabelValsT,xLabelsT],yt:[yTicksB2,yLabelValsB2,yLabelsB2],tY:53,ylX:803,tkY:234,xlY:248,cY:261},
 {id:"a-tam",pts:ptsA3.concat(coreA3),line:lineA3,box:[56,292,206,436],x0:107,kx:403,y0:368.5,ky:525,xt:[xTicksR,xLabelValsR,xLabelsR],yt:[yTicksA1,yLabelValsA1,yLabelsA1],tY:283,ylX:24,tkY:460,xlY:482,cY:497},
 {id:"a-nk-cells",pts:ptsA4.concat(coreA4),line:lineA4,box:[313,293,463,436],x0:363,kx:413,y0:359,ky:570,xt:[xTicksR,xLabelValsR,xLabelsR],yt:[yTicksA1,yLabelValsA1,yLabelsA1],tY:283,ylX:282,tkY:460,xlY:477,cY:497},
 {id:"b-tam",pts:ptsB3.concat(coreB3),line:lineB3,box:[577,302,733,452],x0:694,kx:475,y0:364.5,ky:447,xt:[xTicksT,xLabelValsT,xLabelsT],yt:[yTicksB2,yLabelValsB2,yLabelsB2],tY:291,ylX:542,tkY:476,xlY:490,cY:501},
 {id:"b-nk-cells",pts:ptsB4.concat(coreB4),line:lineB4,box:[835,302,977,445],x0:951,kx:453,y0:378,ky:706,xt:[xTicksT25,xLabelValsT25,xLabelsT25],yt:[yTicksB4,yLabelValsB4,yLabelsB4],tY:291,ylX:803,tkY:469,xlY:486,cY:499},
 {id:"a-mdscs",pts:ptsA5.concat(coreA5),line:lineA5,box:[56,528,210,673],x0:107,kx:420,y0:583.5,ky:570,xt:[xTicksR,xLabelValsR,xLabelsR],yt:[yTicksA5,yLabelValsA5,yLabelsA5],tY:517,ylX:24,tkY:698,xlY:714,cY:729},
 {id:"a-tregs",pts:ptsA6.concat(coreA6),line:lineA6,box:[311,529,463,673],x0:362,kx:413,y0:614,ky:485,xt:[xTicksR,xLabelValsR,xLabelsR],yt:[yTicksA6,yLabelValsA6,yLabelsA6],tY:518,ylX:279,tkY:697,xlY:713,cY:725},
 {id:"b-mdscs",pts:ptsB5.concat(coreB5),line:lineB5,box:[574,532,727,677],x0:688.7,kx:453,y0:585,ky:490,xt:[xTicksT25,xLabelValsT25,xLabelsT25],yt:[yTicksB2,yLabelValsB2,yLabelsB2],tY:517,ylX:540,tkY:700,xlY:717,cY:730},
 {id:"b-tregs",pts:ptsB6.concat(coreB6),line:lineB6,box:[838,534,991,678],x0:952,kx:475,y0:560,ky:280,xt:[xTicksT,xLabelValsT,xLabelsT],yt:[yTicksB6,yLabelValsB6,yLabelsB6],tY:517,ylX:800,tkY:701,xlY:717,cY:730},
 {id:"a-cd4t",pts:ptsA7.concat(coreA7),line:lineA7,box:[56,758,210,908],x0:107,kx:420,y0:832.5,ky:483,xt:[xTicksR,xLabelValsR,xLabelsR],yt:[yTicksA7,yLabelValsA7,yLabelsA7],tY:749,ylX:23,tkY:932,xlY:945,cY:960},
 {id:"a-dcs",pts:ptsA8.concat(coreA8),line:lineA8,box:[313,759,463,904],x0:363,kx:410,y0:836,ky:510,xt:[xTicksR,xLabelValsR,xLabelsR],yt:[yTicksA1,yLabelValsA1,yLabelsA1],tY:751,ylX:280,tkY:927,xlY:944,cY:957},
 {id:"b-cd4t",pts:ptsB7.concat(coreB7),line:lineB7,box:[579,762,726,904],x0:689,kx:455,y0:786,ky:585,xt:[xTicksT,xLabelValsT,xLabelsT],yt:[yTicksB1,yLabelValsB1,yLabelsB1],tY:753,ylX:552,tkY:927,xlY:938,cY:953},
 {id:"b-dcs",pts:ptsB8.concat(coreB8),line:lineB8,box:[841,762,986,902],x0:875,kx:450,y0:867,ky:320,xt:[xTicksB8,xLabelValsB8,xLabelsB8],yt:[yTicksB8,yLabelValsB8,yLabelsB8],tY:749,ylX:807,tkY:925,xlY:937,cY:949}
];
const NS="http://www.w3.org/2000/svg";
const svg=document.getElementById("fig");
function mk(tag,attrs,parent){const e=document.createElementNS(NS,tag);for(const k in attrs)e.setAttribute(k,attrs[k]);(parent||svg).appendChild(e);return e;}
panels.forEach((p,i)=>{
  const sx=v=>p.x0+v*p.kx, sy=v=>p.y0-v*p.ky;
  const [bx0,by0,bx1,by1]=p.box;
  const g=mk("g",{});
  
  
  const cp=mk("clipPath",{id:"clip"+i},g);
  mk("rect",{x:bx0,y:by0,width:bx1-bx0,height:by1-by0},cp);
  const t=mk("text",{x:(bx0+bx1)/2,y:p.tY+4,"text-anchor":"middle","font-size":"12","font-weight":"bold"},g);
  t.textContent=titles[i];
  
  
  const box=mk("rect",{x:bx0,y:by0,width:bx1-bx0,height:by1-by0,fill:"none",stroke:"#555","stroke-width":"1"},g);
  
  
  const xa=mk("g",{},g);
  
  
  p.xt[0].forEach(v=>{const x=sx(v);if(x>=bx0-1&&x<=bx1+1)mk("line",{x1:x,x2:x,y1:by1,y2:by1+5,stroke:"#444"},xa);});
  p.xt[1].forEach((v,j)=>{const tx=mk("text",{x:sx(v),y:p.tkY,"text-anchor":"middle","font-size":"11",fill:"#222"},xa);tx.textContent=p.xt[2][j];
    
    });
  const ya=mk("g",{},g);
  
  
  p.yt[0].forEach(v=>{const y=sy(v);if(y>=by0-1&&y<=by1+1)mk("line",{x1:bx0-5,x2:bx0,y1:y,y2:y,stroke:"#444"},ya);});
  p.yt[1].forEach((v,j)=>{const y=sy(v),x=bx0-10;const tx=mk("text",{x:x,y:y,"text-anchor":"middle","font-size":"11",fill:"#222",transform:`rotate(-90 ${x} ${y})`},ya);tx.textContent=p.yt[2][j];
    
    });
  const yl=mk("text",{x:p.ylX+5,y:(by0+by1)/2,"text-anchor":"middle","font-size":"13","font-weight":"bold",transform:`rotate(-90 ${p.ylX+5} ${(by0+by1)/2})`},g);
  yl.textContent="Related genes mRNA";
  
  
  const xl=mk("text",{x:(bx0+bx1)/2,y:p.xlY,"text-anchor":"middle","font-size":"13","font-weight":"bold"},g);
  xl.textContent="CD155 mRNA";
  
  
  const cc=mk("text",{x:(bx0+bx1)/2,y:p.cY,"text-anchor":"middle","font-size":"11.8","font-weight":"bold"},g);
  cc.textContent="Canonical correlation "+correlations[i]+",  "+pvalues[i];
  
  
  const pg=mk("g",{"clip-path":`url(#clip${i})`},g);
  p.pts.forEach(d=>{const c=mk("circle",{cx:sx(d[0]),cy:sy(d[1]),r:3.2,fill:"none",stroke:"#1a1a1a","stroke-width":"1"},pg);
    
    });
  const L=p.line;
  const ln=mk("line",{x1:sx(L[0]),y1:sy(L[1]),x2:sx(L[2]),y2:sy(L[3]),stroke:"#444","stroke-width":"1"},pg);
  
  
});
</script>
</body></html>
